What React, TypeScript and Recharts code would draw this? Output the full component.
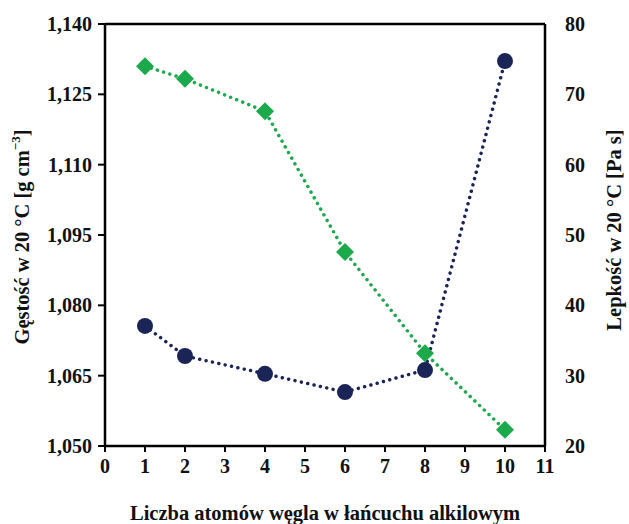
import React from "react";
import { ComposedChart, Line, XAxis, YAxis, ReferenceLine } from "recharts";

const carbonAtoms = [1, 2, 4, 6, 8, 10];
const density = [1.0756, 1.0692, 1.0654, 1.0615, 1.0662, 1.1321];
const viscosity = [74.0, 72.2, 67.6, 47.6, 33.2, 22.3];
const xTicks = [0, 1, 2, 3, 4, 5, 6, 7, 8, 9, 10, 11];
const leftTicks = [1.05, 1.065, 1.08, 1.095, 1.11, 1.125, 1.14];
const rightTicks = [20, 30, 40, 50, 60, 70, 80];

const data = carbonAtoms.map((x, i) => ({ x, density: density[i], viscosity: viscosity[i] }));

const NAVY = "#1B2457";
const GREEN = "#1BAA4B";
const FONT = "'Liberation Serif', 'Times New Roman', serif";

const Diamond = (props: any) => {
  const { cx, cy } = props;
  if (cx == null || cy == null) return null;
  const r = 9;
  return (
    <polygon
      points={`${cx},${cy - r} ${cx + r},${cy} ${cx},${cy + r} ${cx - r},${cy}`}
      fill={GREEN}
    />
  );
};

const Circle = (props: any) => {
  const { cx, cy } = props;
  if (cx == null || cy == null) return null;
  return <circle cx={cx} cy={cy} r={8} fill={NAVY} />;
};

const tickStyle = { fontFamily: FONT, fontSize: 20, fontWeight: 700, fill: "#111" };
const titleStyle = { fontFamily: FONT, fontSize: 20.5, fontWeight: 700, fill: "#111" };

const LeftTitle = (props: any) => {
  const { viewBox } = props;
  const cx = 22;
  const cy = viewBox.y + viewBox.height / 2 + 2;
  return (
    <text
      x={cx}
      y={cy}
      transform={`rotate(-90, ${cx}, ${cy})`}
      textAnchor="middle"
      dominantBaseline="central"
      style={titleStyle}
    >
      <tspan>Gęstość w 20 °C [g cm</tspan>
      <tspan dy={-7} fontSize={13}>−3</tspan>
      <tspan dy={7}>]</tspan>
    </text>
  );
};

const RightTitle = (props: any) => {
  const { viewBox } = props;
  const cx = 614;
  const cy = viewBox.y + viewBox.height / 2 - 5;
  return (
    <text
      x={cx}
      y={cy}
      transform={`rotate(-90, ${cx}, ${cy})`}
      textAnchor="middle"
      dominantBaseline="central"
      style={titleStyle}
    >
      Lepkość w 20 °C [Pa s]
    </text>
  );
};

export default function App() {
  return (
    <div style={{ position: "absolute", left: 0, top: 0, width: 629, height: 524, background: "#fff" }}>
      <ComposedChart
        width={629}
        height={524}
        data={data}
        margin={{ top: 24, right: 0, bottom: 0, left: 0 }}
      >
        <XAxis
          dataKey="x"
          type="number"
          domain={[0, 11]}
          ticks={xTicks}
          interval={0}
          height={78}
          axisLine={{ stroke: "#000", strokeWidth: 2.5 }}
          tickLine={{ stroke: "#000", strokeWidth: 2 }}
          tickSize={6}
          tick={tickStyle}
          tickMargin={7}
          label={{
            value: "Liczba atomów węgla w łańcuchu alkilowym",
            position: "insideBottom",
            offset: 4,
            style: titleStyle,
          }}
        />
        <YAxis
          yAxisId="left"
          orientation="left"
          type="number"
          domain={[1.05, 1.14]}
          ticks={leftTicks}
          interval={0}
          width={105}
          axisLine={{ stroke: "#000", strokeWidth: 2.5 }}
          tickLine={{ stroke: "#000", strokeWidth: 2 }}
          tickSize={7}
          tickMargin={6}
          tick={tickStyle}
          tickFormatter={(v: number) => v.toFixed(3).replace(".", ",")}
          label={<LeftTitle />}
        />
        <YAxis
          yAxisId="right"
          orientation="right"
          type="number"
          domain={[20, 80]}
          ticks={rightTicks}
          interval={0}
          width={84}
          axisLine={{ stroke: "#000", strokeWidth: 2.5 }}
          tickLine={false}
          tickSize={0}
          tickMargin={20}
          tick={tickStyle}
          label={<RightTitle />}
        />
        <ReferenceLine yAxisId="left" y={1.14} stroke="#000" strokeWidth={2.5} ifOverflow="extendDomain" />
        <Line
          yAxisId="left"
          dataKey="density"
          stroke={NAVY}
          strokeWidth={3.5}
          strokeDasharray="0.01 6.5"
          strokeLinecap="round"
          dot={<Circle />}
          activeDot={false}
          isAnimationActive={false}
        />
        <Line
          yAxisId="right"
          dataKey="viscosity"
          stroke={GREEN}
          strokeWidth={3.5}
          strokeDasharray="0.01 6.5"
          strokeLinecap="round"
          dot={<Diamond />}
          activeDot={false}
          isAnimationActive={false}
        />
      </ComposedChart>
    </div>
  );
}
